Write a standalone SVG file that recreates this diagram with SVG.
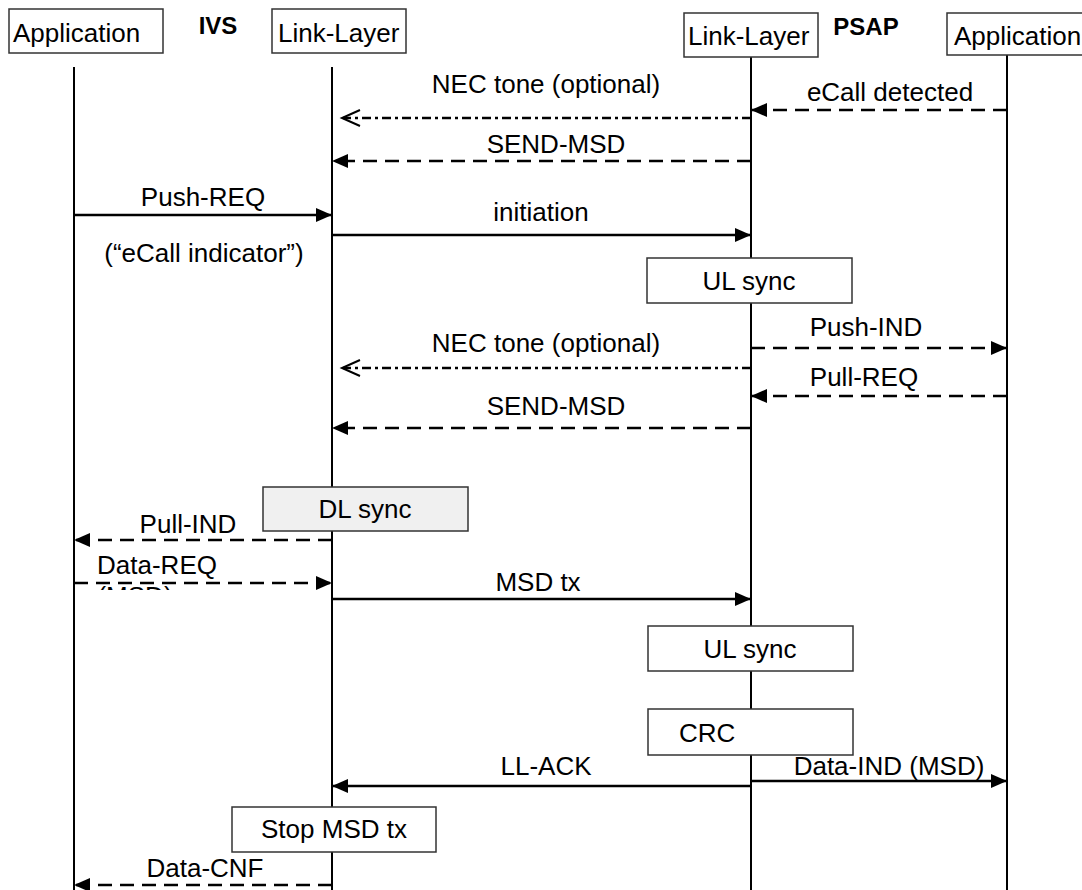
<svg xmlns="http://www.w3.org/2000/svg" width="1082" height="890" viewBox="0 0 1082 890">
<style>
text{font-family:"Liberation Sans",Arial,sans-serif;font-size:26px;fill:#000}
.c{text-anchor:middle}
.b{font-weight:bold;font-size:24px}
.box{fill:#fff;stroke:#333;stroke-width:1.5}
.grey{fill:#f0f0f0}
.life{stroke:#000;stroke-width:2;fill:none}
.sol{stroke:#000;stroke-width:2.5;fill:none}
.dash{stroke:#000;stroke-width:2.5;fill:none;stroke-dasharray:14 8}
.dd{stroke:#000;stroke-width:2.5;fill:none;stroke-dasharray:9 4 3 4}
.chev{stroke:#000;stroke-width:2;fill:none}
</style>
<defs>
<marker id="ah" viewBox="0 0 16 14" refX="16" refY="7" markerWidth="16" markerHeight="14" markerUnits="userSpaceOnUse" orient="auto"><path d="M0,0 L16,7 L0,14 z" fill="#000"/></marker>
<clipPath id="clipmsd"><rect x="90" y="585" width="100" height="5"/></clipPath>
</defs>
<rect width="1082" height="890" fill="#fff"/>

<g id="lifelines">
<line class="life" x1="74" y1="67" x2="74" y2="890"/>
<line class="life" x1="332" y1="67" x2="332" y2="890"/>
<line class="life" x1="751" y1="57" x2="751" y2="890"/>
<line class="life" x1="1007" y1="55" x2="1007" y2="890"/>
</g>

<g id="ivs-app"><rect class="box" x="9" y="9" width="154" height="44"/><text x="13" y="42">Application</text></g>
<text class="b c" x="218" y="34">IVS</text>
<g id="ivs-ll"><rect class="box" x="272" y="9" width="134" height="44"/><text x="278" y="42">Link-Layer</text></g>
<g id="psap-ll"><rect class="box" x="684" y="13" width="134" height="44"/><text x="688" y="45">Link-Layer</text></g>
<text class="b c" x="866" y="35">PSAP</text>
<g id="psap-app"><rect class="box" x="947" y="13" width="145" height="42"/><text x="954" y="45">Application</text></g>

<g id="connectors">
<line class="dash" x1="1007" y1="110" x2="751" y2="110" marker-end="url(#ah)"/>
<line class="dd" x1="751" y1="118" x2="343" y2="118"/>
<path class="chev" d="M360,110 L342,118 L360,126"/>
<line class="dash" x1="751" y1="161" x2="332" y2="161" marker-end="url(#ah)"/>
<line class="sol" x1="74" y1="215" x2="332" y2="215" marker-end="url(#ah)"/>
<line class="sol" x1="332" y1="235" x2="751" y2="235" marker-end="url(#ah)"/>
<line class="dash" x1="751" y1="348" x2="1007" y2="348" marker-end="url(#ah)"/>
<line class="dd" x1="751" y1="368" x2="343" y2="368"/>
<path class="chev" d="M360,360 L342,368 L360,376"/>
<line class="dash" x1="1007" y1="396" x2="751" y2="396" marker-end="url(#ah)"/>
<line class="dash" x1="751" y1="428" x2="332" y2="428" marker-end="url(#ah)"/>
<line class="dash" x1="332" y1="540" x2="74" y2="540" marker-end="url(#ah)"/>
<line class="dash" x1="74" y1="583" x2="332" y2="583" marker-end="url(#ah)"/>
<line class="sol" x1="332" y1="599" x2="751" y2="599" marker-end="url(#ah)"/>
<line class="sol" x1="751" y1="786" x2="332" y2="786" marker-end="url(#ah)"/>
<line class="sol" x1="750" y1="781" x2="1007" y2="781" stroke-width="2" marker-end="url(#ah)"/>
<line class="dash" x1="332" y1="885" x2="74" y2="885" marker-end="url(#ah)"/>
</g>

<g id="labels">
<text class="c" x="890" y="101">eCall detected</text>
<text class="c" x="546" y="93">NEC tone (optional)</text>
<text class="c" x="556" y="153">SEND-MSD</text>
<text class="c" x="203" y="206">Push-REQ</text>
<text class="c" x="541" y="221">initiation</text>
<text class="c" x="204" y="262">(“eCall indicator”)</text>
<text class="c" x="866" y="336">Push-IND</text>
<text class="c" x="546" y="352">NEC tone (optional)</text>
<text class="c" x="864" y="386">Pull-REQ</text>
<text class="c" x="556" y="415">SEND-MSD</text>
<text class="c" x="188" y="533">Pull-IND</text>
<text class="c" x="157" y="574">Data-REQ</text>
<text class="c" x="135" y="605" clip-path="url(#clipmsd)">(MSD)</text>
<text class="c" x="538" y="591">MSD tx</text>
<text class="c" x="546" y="775">LL-ACK</text>
<text class="c" x="889" y="775">Data-IND (MSD)</text>
<text class="c" x="205" y="877">Data-CNF</text>
</g>

<g id="ul-sync-1"><rect class="box" x="647" y="258" width="205" height="45"/><text class="c" x="749" y="290">UL sync</text></g>
<g id="dl-sync"><rect class="box grey" x="263" y="487" width="205" height="44"/><text class="c" x="365" y="518">DL sync</text></g>
<g id="ul-sync-2"><rect class="box" x="648" y="626" width="205" height="45"/><text class="c" x="750" y="658">UL sync</text></g>
<g id="crc"><rect class="box" x="648" y="709" width="205" height="46"/><text x="679" y="742">CRC</text></g>
<g id="stop-msd"><rect class="box" x="232" y="807" width="204" height="45"/><text class="c" x="334" y="838">Stop MSD tx</text></g>
</svg>
